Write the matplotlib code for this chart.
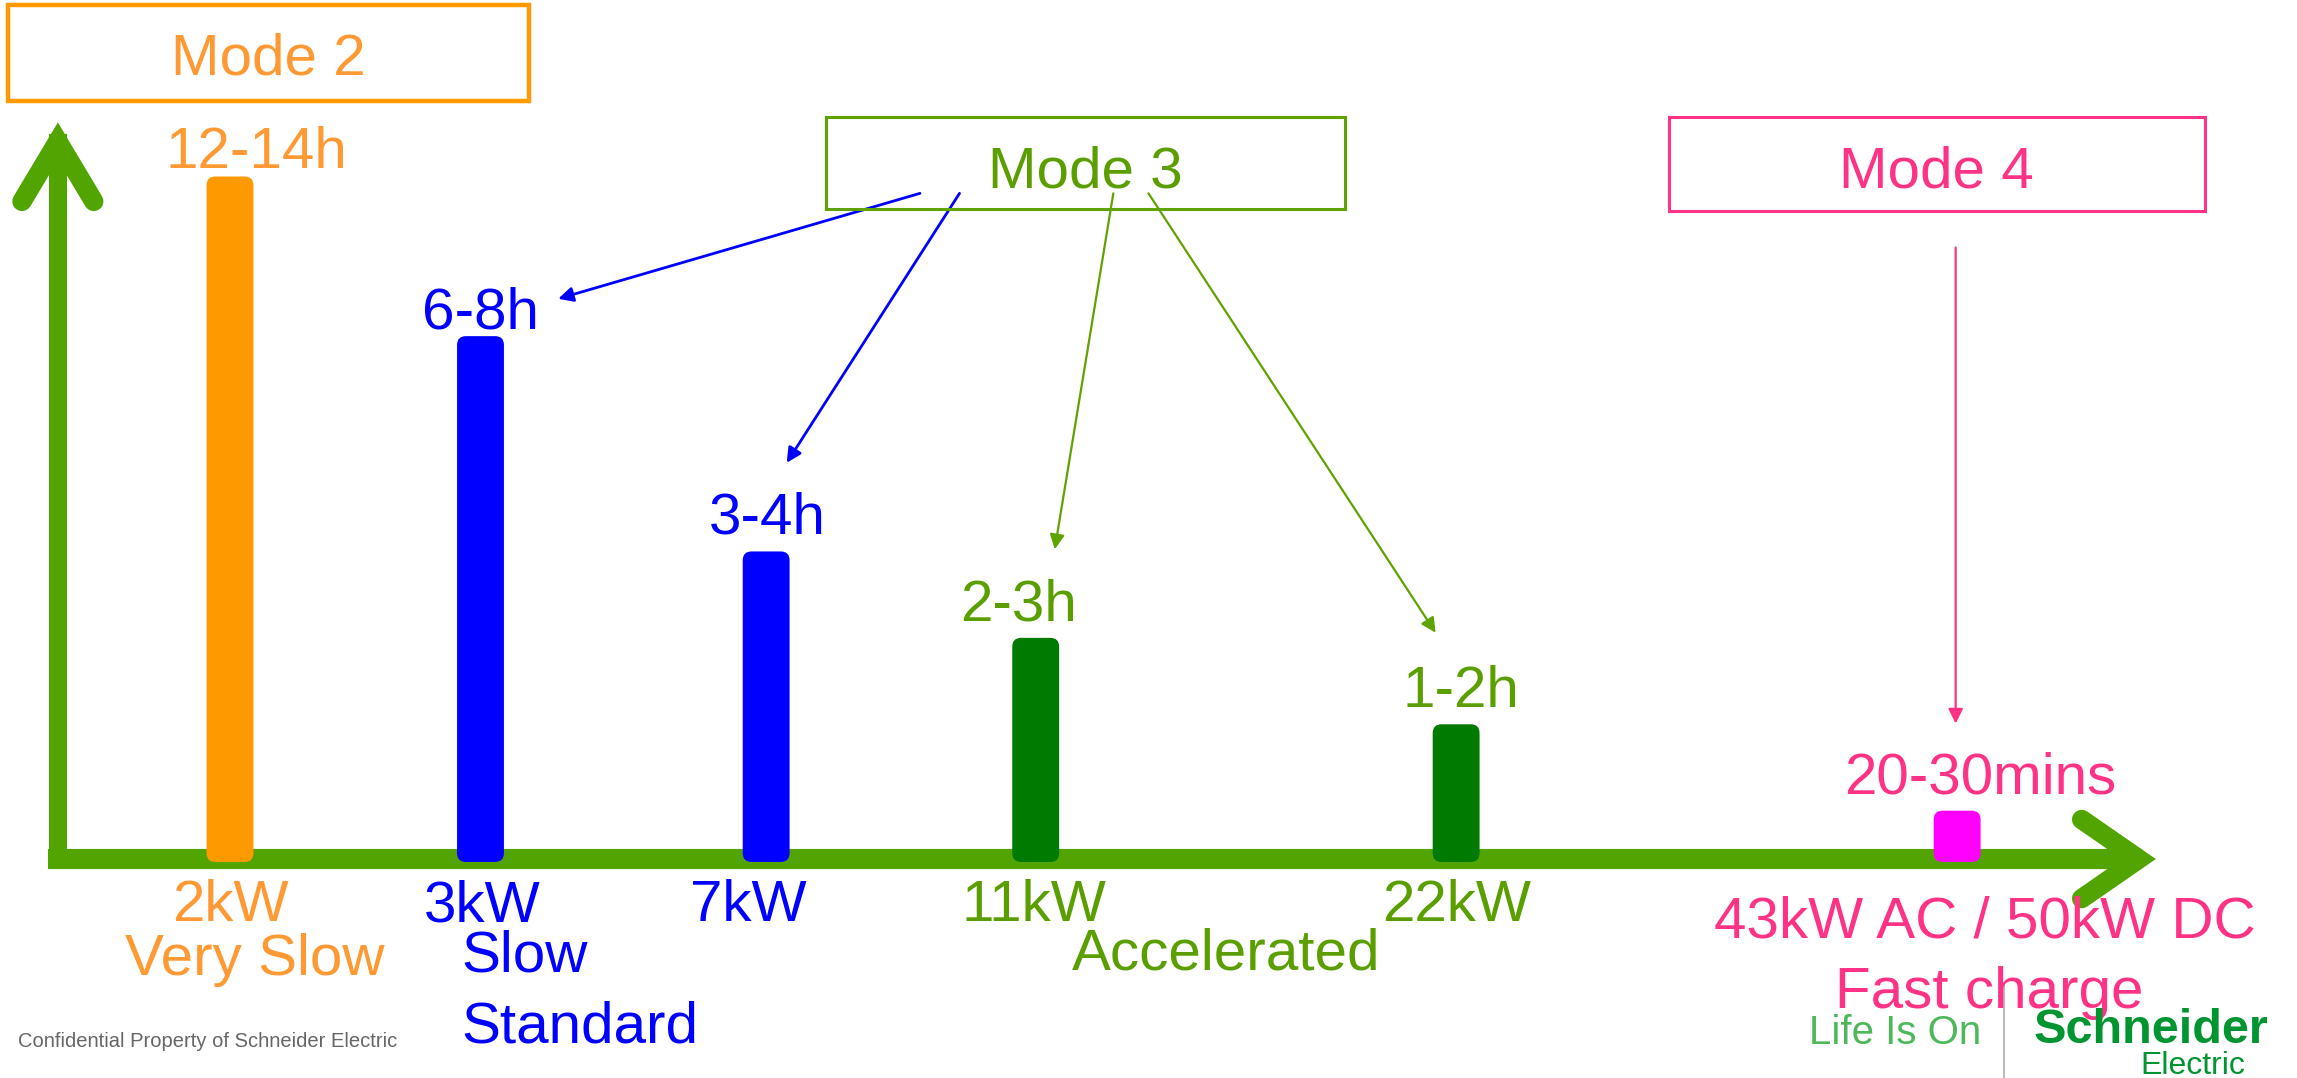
import matplotlib
matplotlib.use("Agg")
from matplotlib import pyplot as plt
from matplotlib.patches import FancyBboxPatch, Rectangle
from matplotlib.lines import Line2D

plt.rcParams['font.family'] = ['Liberation Sans', 'DejaVu Sans']

# charging power levels and typical full-charge times
powers = ['2kW', '3kW', '7kW', '11kW', '22kW', '43kW AC / 50kW DC']
times = ['12-14h', '6-8h', '3-4h', '2-3h', '1-2h', '20-30mins']
bar_pos = [157, 328, 523, 707, 994, 1336]
bar_height = [468, 359, 212, 153, 94, 35]

ORANGE = '#FF9900'
ORANGE_TXT = '#FF9933'
BLUE = '#0000FF'
OLIVE = '#5A9E00'
OLIVE_BOX = '#5FA300'
DKGREEN = '#007A00'
AXIS_GREEN = '#52A500'
PINK = '#FF3385'
MAGENTA = '#FF00FF'

bar_colors = [ORANGE, BLUE, BLUE, DKGREEN, DKGREEN, MAGENTA]
time_colors = [ORANGE_TXT, BLUE, BLUE, OLIVE, OLIVE, PINK]
power_colors = [ORANGE_TXT, BLUE, BLUE, OLIVE, OLIVE, PINK]
time_dx = [18, 0, 1, -12, 3, 16]
time_dy = [4, 3, 10, 10, 10, 10]
power_x = [157, 329, 511, 706, 994, 1355]
power_y = [-42.5, -42.5, -42.5, -42.5, -42.5, -53.5]

FS = 42

fig = plt.figure(figsize=(22.97, 10.78), dpi=100)
ax = fig.add_axes([0, 0, 1, 1])
ax.set_xlim(0, 1568)
ax.set_ylim(-149.5, 586.5)
ax.axis('off')

# axes drawn as thick green arrows
ax.plot([39.5, 39.5], [-6.5, 495], color=AXIS_GREEN, lw=13, solid_capstyle='butt', zorder=2)
ax.plot([33, 1462], [0, 0], color=AXIS_GREEN, lw=14.5, solid_capstyle='butt', zorder=2)
ax.add_line(Line2D([15, 39.5, 64], [449, 490, 449], color=AXIS_GREEN, lw=14,
                   solid_capstyle='round', solid_joinstyle='miter', zorder=2))
ax.add_line(Line2D([1421, 1460, 1421], [27, 0, -27], color=AXIS_GREEN, lw=14,
                   solid_capstyle='round', solid_joinstyle='miter', zorder=2))

# bars with rounded corners
bars = ax.bar(bar_pos, bar_height, width=32, bottom=-2, color=bar_colors)
for b in bars:
    bx, by = b.get_xy()
    ax.add_patch(FancyBboxPatch((bx, by), b.get_width(), b.get_height(),
                                boxstyle='round,pad=0,rounding_size=6',
                                fc=b.get_facecolor(), ec='none', zorder=3))
    b.remove()

for i in range(len(times)):
    ax.text(bar_pos[i] + time_dx[i], bar_height[i] + time_dy[i], times[i],
            color=time_colors[i], fontsize=FS, ha='center', va='baseline')
    ax.text(power_x[i], power_y[i], powers[i], color=power_colors[i],
            fontsize=FS, ha='center', va='baseline')

# speed categories
ax.text(174, -79.5, 'Very Slow', color=ORANGE_TXT, fontsize=FS, ha='center', va='baseline')
ax.text(315, -76.5, 'Slow', color=BLUE, fontsize=FS, ha='left', va='baseline')
ax.text(315, -125.5, 'Standard', color=BLUE, fontsize=FS, ha='left', va='baseline')
ax.text(732, -75.5, 'Accelerated', color=OLIVE, fontsize=FS, ha='left', va='baseline')
ax.text(1358, -101.5, 'Fast charge', color=PINK, fontsize=FS, ha='center', va='baseline')

# mode boxes
modes = [('Mode 2', 5.5, 517.5, 355.5, 65.5, ORANGE, ORANGE_TXT, 3.2, 183, 535.5),
         ('Mode 3', 564, 443.5, 354, 63, OLIVE_BOX, OLIVE, 2.2, 741, 458.5),
         ('Mode 4', 1139, 442.5, 366, 64, PINK, PINK, 2.2, 1321.5, 458.5)]
for name, x0, y0, w, h, ec, tc, lw, tx, ty in modes:
    ax.add_patch(Rectangle((x0, y0), w, h, fill=False, ec=ec, lw=lw, zorder=4))
    ax.text(tx, ty, name, color=tc, fontsize=FS, ha='center', va='baseline')

# pointers from the mode boxes to the bars
pointers = [((628, 454.5), (381, 382.5), BLUE, 2.0),
            ((655, 454.5), (537, 270.5), BLUE, 2.0),
            ((760, 454.5), (720, 211.5), OLIVE_BOX, 1.6),
            ((784, 454.5), (980, 154.5), OLIVE_BOX, 1.6),
            ((1335, 417.5), (1335, 92.5), PINK, 1.6)]
for start, end, c, lw in pointers:
    ax.annotate('', xy=end, xytext=start,
                arrowprops=dict(arrowstyle='-|>', color=c, lw=lw,
                                mutation_scale=22, shrinkA=0, shrinkB=0))

# footer
ax.text(12, -128.5, 'Confidential Property of Schneider Electric', color='#666666',
        fontsize=14.5, ha='left', va='baseline')
ax.text(1235, -126.5, 'Life Is On', color='#4DB85A', fontsize=29, ha='left', va='baseline')
ax.plot([1368, 1368], [-84.5, -149.5], color='#BBBBBB', lw=1.5)
ax.text(1388, -125.5, 'Schneider', color='#009530', fontsize=35, fontweight='bold',
        ha='left', va='baseline')
ax.text(1461, -146.5, 'Electric', color='#009530', fontsize=23, ha='left', va='baseline')

fig.savefig('out.png', dpi=100)
